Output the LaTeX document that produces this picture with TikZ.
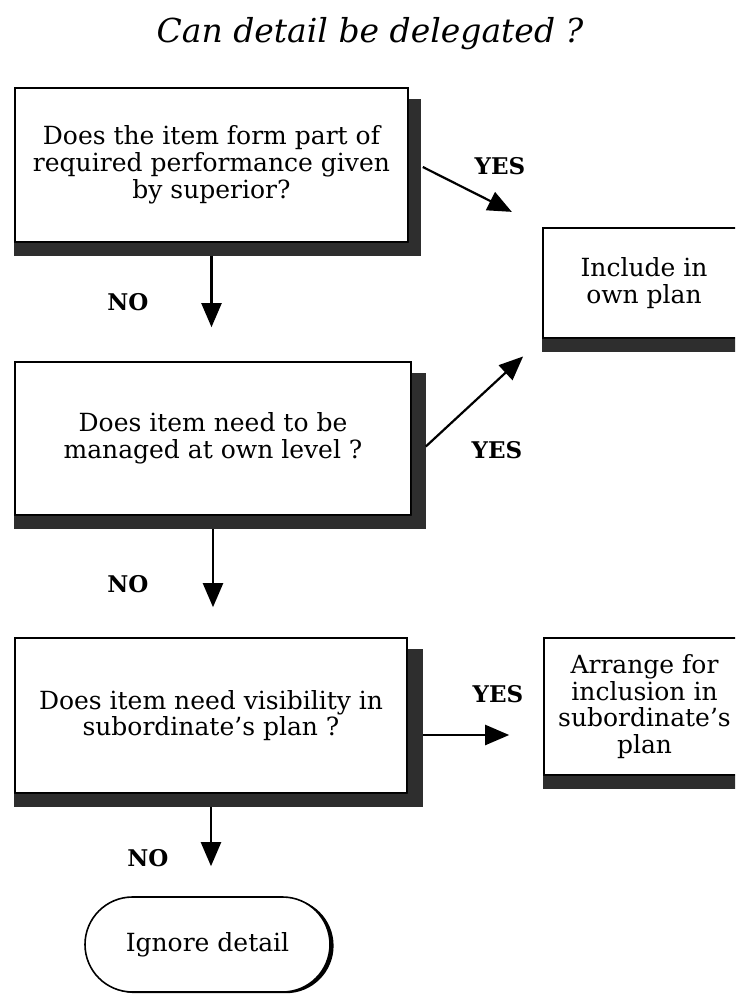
\documentclass[tikz,border=0pt]{standalone}
\usepackage{fontspec}
\setmainfont{DejaVu Serif}
\usetikzlibrary{arrows.meta,calc,shapes.misc,shadows}

\begin{document}
\begin{tikzpicture}[x=0.5pt, y=-0.5pt, line width=0.8pt,
    qbox/.style={draw, fill=white, inner sep=0pt, align=center,
                 font=\fontsize{12.5}{13.4}\selectfont},
    shade/.style={fill=black!82, draw=none},
    answer/.style={font=\bfseries\fontsize{11.5}{12}\selectfont},
    arr/.style={-{Triangle[length=12pt,width=10pt]}, line width=1.1pt}]

    \useasboundingbox (0,0) rectangle (735,994);
    \clip (0,0) rectangle (735,994);

    %----------------------
    % TITLE
    %----------------------
    \node[font=\itshape\fontsize{16.5}{18}\selectfont] (title) at (370,34)
        {Can detail be delegated ?};

    %----------------------
    % QUESTION BOXES (left column)
    %----------------------
    \node[qbox, minimum width=196.5pt, minimum height=77pt] (box1) at (211.5,165)
        {Does the item form part of\\required performance given\\by superior?};
    \node[qbox, minimum width=198pt, minimum height=76.5pt] (box2) at (213,438.5)
        {Does item need to be\\managed at own level ?};
    \node[qbox, minimum width=196pt, minimum height=77.5pt] (box3) at (211,715.5)
        {Does item need visibility in\\subordinate's plan ?};

    %----------------------
    % ACTION BOXES (right column, cut by the page edge)
    %----------------------
    \node[qbox, minimum width=101pt, minimum height=55pt] (include) at (644,283)
        {Include in\\own plan};
    \node[qbox, minimum width=100.5pt, minimum height=68.5pt] (arrange) at (644.5,706.5)
        {Arrange for\\inclusion in\\subordinate's\\plan};

    % End of the chart
    \node[draw, fill=white, rounded rectangle, inner sep=0pt,
          minimum width=122.5pt, minimum height=47.5pt,
          drop shadow={shadow xshift=1.8pt, shadow yshift=-0.6pt, fill=black, opacity=1},
          font=\fontsize{12.5}{13.4}\selectfont] (ignore) at (207.5,944.5) {Ignore detail};

    % Heavy shadows on right and bottom edges
    \foreach \b/\w in {box1/12, box2/14, box3/15, include/13, arrange/13}
        \fill[shade] ($(\b.north east)+(0,12)$) -- ($(\b.north east)+(\w,12)$)
            -- ($(\b.south east)+(\w,13)$) -- ($(\b.south west)+(0,13)$)
            -- (\b.south west) -- (\b.south east) -- cycle;

    %----------------------
    % NO branches (downwards)
    %----------------------
    \draw[arr, shorten >=17pt] ([yshift=-6.5pt]box1.south) -- (box1.south |- box2.north);
    \node[answer] (no1) at (128,302) {NO};

    \draw[arr, shorten >=15pt] ([yshift=-6.5pt]box2.south) -- (box2.south |- box3.north);
    \node[answer] (no2) at (128,584) {NO};

    \draw[arr, shorten >=15pt] ([yshift=-6.5pt]box3.south) -- (box3.south |- ignore.north);
    \node[answer] (no3) at (148,858) {NO};

    %----------------------
    % YES branches (to the right)
    %----------------------
    \draw[arr, shorten >=17pt] ([xshift=7pt,yshift=-1pt]box1.east) -- (include.north west);
    \node[answer] (yes1) at (500,166) {YES};

    \draw[arr, shorten >=13pt] ([xshift=7pt,yshift=-4pt]box2.east) -- (include.south west);
    \node[answer] (yes2) at (497,450) {YES};

    \coordinate (s3) at ([xshift=7.5pt,yshift=-9.75pt]box3.east);
    \draw[arr, shorten >=17pt] (s3) -- (s3 -| arrange.west);
    \node[answer] (yes3) at (498,694) {YES};

\end{tikzpicture}
\end{document}
